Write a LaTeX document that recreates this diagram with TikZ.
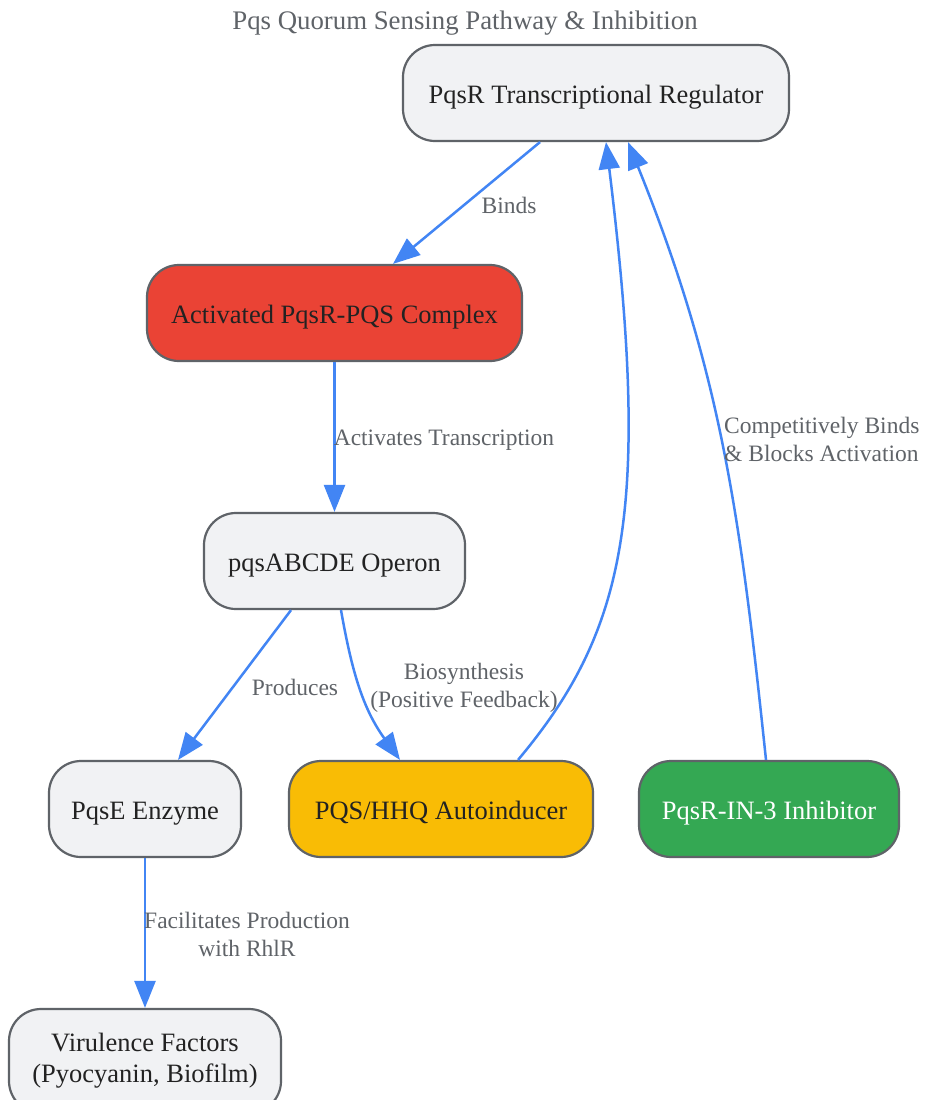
\documentclass[tikz,border=0pt]{standalone}
\usepackage{fontspec}
\setmainfont{Liberation Serif}
\usetikzlibrary{arrows.meta}
\definecolor{nodefill}{HTML}{F1F2F4}
\definecolor{nodeline}{HTML}{5F6368}
\definecolor{nodetext}{HTML}{222222}
\definecolor{labeltext}{HTML}{5F6368}
\definecolor{edgeblue}{HTML}{4285F4}
\definecolor{redfill}{HTML}{EA4335}
\definecolor{yellowfill}{HTML}{F9BC05}
\definecolor{greenfill}{HTML}{34A853}
\tikzset{
  box/.style={draw=nodeline, line width=2.2pt, fill=nodefill, rounded corners=32pt,
    minimum height=96pt, inner sep=0pt, text=nodetext, align=center,
    font=\fontsize{26.5}{31}\selectfont},
  onebox/.style={box, text height=26pt, text depth=6pt},
  edge/.style={draw=edgeblue, line width=2.5pt, -{Triangle[length=27pt,width=21pt]}},
  elabel/.style={text=labeltext, align=center, inner sep=0pt, font=\fontsize{23.5}{28}\selectfont},
}
\begin{document}
\begin{tikzpicture}[x=1pt,y=1pt]
\path[use as bounding box, clip] (0,0) rectangle (924,-1100);
\fill[white] (0,0) rectangle (924,-1100);

\node[elabel, font=\fontsize{26.8}{32}\selectfont] (title) at (465,-23) {Pqs Quorum Sensing Pathway \& Inhibition};

\node[onebox, minimum width=386pt] (pqsr) at (596,-93) {PqsR Transcriptional Regulator};
\node[onebox, minimum width=375pt, fill=redfill] (act) at (334.5,-313) {Activated PqsR-PQS Complex};
\node[onebox, minimum width=261pt] (ops) at (334.5,-561) {pqsABCDE Operon};
\node[onebox, minimum width=192pt] (pqse) at (145,-809) {PqsE Enzyme};
\node[onebox, minimum width=304pt, fill=yellowfill] (hhq) at (441,-809) {PQS/HHQ Autoinducer};
\node[onebox, minimum width=260pt, fill=greenfill, text=white] (inh) at (769,-809) {PqsR-IN-3 Inhibitor};
\node[box, minimum width=272pt, minimum height=104pt] (vir) at (145,-1061) {Virulence Factors\\(Pyocyanin, Biofilm)};

\draw[edge] ([xshift=-56pt]pqsr.south) -- ([xshift=58.5pt]act.north);
\draw[edge] (act.south) -- (ops.north);
\draw[edge] ([xshift=-43.5pt]ops.south) -- ([xshift=33pt]pqse.north);
\draw[edge] ([xshift=6.5pt]ops.south) to[out=-80,in=126] ([xshift=-41pt]hhq.north);
\draw[edge] ([xshift=77pt]hhq.north) to[out=50,in=-83,out distance=170pt,in distance=370pt] ([xshift=10pt]pqsr.south);
\draw[edge] ([xshift=-3pt]inh.north) to[out=96,in=-68] ([xshift=32pt]pqsr.south);
\draw[edge] (pqse.south) -- (vir.north);

\node[elabel] (l1) at (509,-205) {Binds};
\node[elabel] (l2) at (444,-440) {Activates Transcription};
\node[elabel] (l3) at (295,-687) {Produces};
\node[elabel] (l4) at (464,-688) {Biosynthesis\\(Positive Feedback)};
\node[elabel, align=left, anchor=west] (l5) at (724,-439) {Competitively Binds\\\& Blocks Activation};
\node[elabel] (l6) at (247,-934) {Facilitates Production\\with RhlR};
\end{tikzpicture}
\end{document}
